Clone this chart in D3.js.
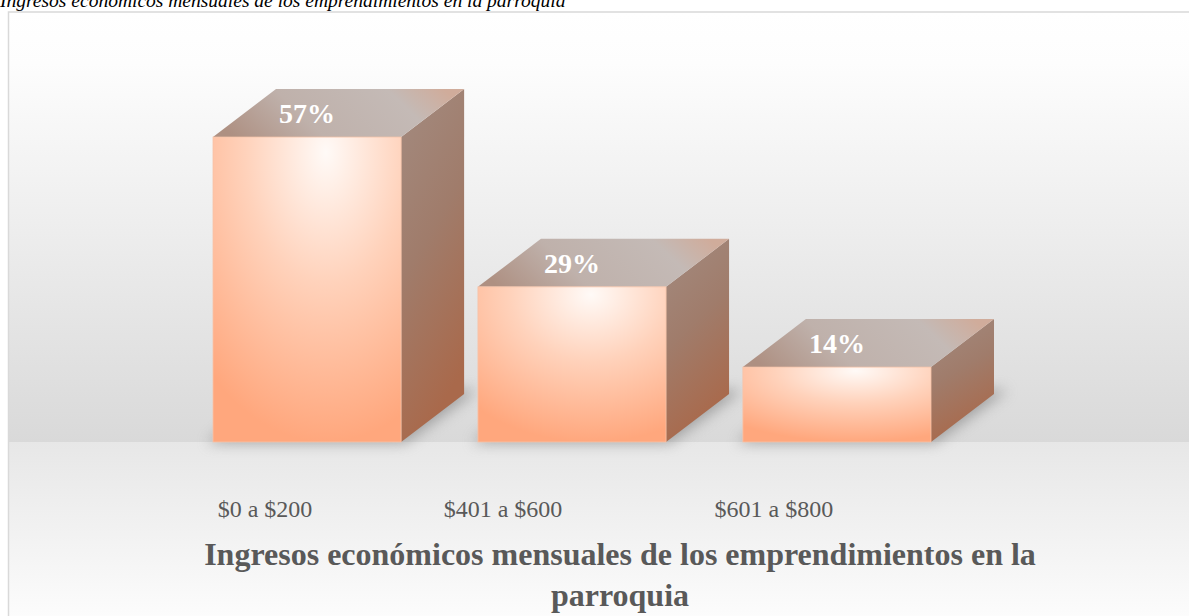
<!DOCTYPE html>
<html>
<head>
<meta charset="utf-8">
<script src="https://cdn.jsdelivr.net/npm/d3@7"></script>
<style>
  html, body { margin: 0; padding: 0; background: #ffffff; }
  svg { display: block; }
</style>
</head>
<body>
<svg id="chart" width="1189" height="616"></svg>
<script>
const categories = ["$0 a $200", "$401 a $600", "$601 a $800"];
const values = [57, 29, 14];
const valueLabels = ["57%", "29%", "14%"];
const chartTitleLines = ["Ingresos económicos mensuales de los emprendimientos en la", "parroquia"];
const captionText = "Ingresos económicos mensuales de los emprendimientos en la parroquia";

(function () {
const W = 1189, H = 616;
const svg = d3.select("#chart");
const defs = svg.append("defs");

// Layout
const floorY = 442;
const depthX = 63, depthY = 48;
const x = d3.scaleBand().domain(categories).range([213, 931]).paddingInner(0.29).paddingOuter(0);
const y = d3.scaleLinear().domain([0, 60]).range([floorY, floorY - 321]);
const bw = x.bandwidth();

// Gradients
const wall = defs.append("linearGradient").attr("id", "wall").attr("x1", 0).attr("y1", 0).attr("x2", 0).attr("y2", 1);
wall.append("stop").attr("offset", "0%").attr("stop-color", "#ffffff");
wall.append("stop").attr("offset", "12%").attr("stop-color", "#fdfdfd");
wall.append("stop").attr("offset", "100%").attr("stop-color", "#d9d9d9");

const floorG = defs.append("linearGradient").attr("id", "floorG").attr("x1", 0).attr("y1", 0).attr("x2", 0).attr("y2", 1);
floorG.append("stop").attr("offset", "0%").attr("stop-color", "#e7e7e7");
floorG.append("stop").attr("offset", "100%").attr("stop-color", "#fdfdfd");

const frontGrad = defs.append("radialGradient").attr("id", "frontG")
  .attr("cx", "60%").attr("cy", "5%").attr("r", "95%").attr("fx", "60%").attr("fy", "5%");
frontGrad.append("stop").attr("offset", "0%").attr("stop-color", "#fffaf7");
frontGrad.append("stop").attr("offset", "45%").attr("stop-color", "#ffd2bb");
frontGrad.append("stop").attr("offset", "100%").attr("stop-color", "#ffa77d");

const sideGrad = defs.append("linearGradient").attr("id", "sideG").attr("x1", 0).attr("y1", 0).attr("x2", 0.3).attr("y2", 1);
sideGrad.append("stop").attr("offset", "0%").attr("stop-color", "#a38b80");
sideGrad.append("stop").attr("offset", "50%").attr("stop-color", "#a07c6b");
sideGrad.append("stop").attr("offset", "100%").attr("stop-color", "#a9694b");

const topGrad = defs.append("linearGradient").attr("id", "topG").attr("x1", 0).attr("y1", 0.6).attr("x2", 1).attr("y2", 0.4);
topGrad.append("stop").attr("offset", "0%").attr("stop-color", "#ae9082");
topGrad.append("stop").attr("offset", "35%").attr("stop-color", "#bfb1ab");
topGrad.append("stop").attr("offset", "78%").attr("stop-color", "#c4bab6");
topGrad.append("stop").attr("offset", "100%").attr("stop-color", "#d0ac9b");

const blur = defs.append("filter").attr("id", "blur").attr("x", "-30%").attr("y", "-30%").attr("width", "160%").attr("height", "160%");
blur.append("feGaussianBlur").attr("stdDeviation", 7);

// Frame & backgrounds
const frameX = 8.5, frameY = 12;
svg.append("rect").attr("x", frameX).attr("y", frameY).attr("width", W + 60).attr("height", floorY - frameY)
  .attr("fill", "url(#wall)");
svg.append("rect").attr("x", frameX).attr("y", floorY).attr("width", W + 60).attr("height", H - floorY + 10)
  .attr("fill", "url(#floorG)");
svg.append("rect").attr("x", frameX).attr("y", frameY).attr("width", W + 60).attr("height", H + 40)
  .attr("fill", "none").attr("stroke", "#d9d9d9").attr("stroke-width", 1.5);

// Caption above frame
svg.append("text")
  .attr("x", 0).attr("y", 7)
  .attr("font-family", "'Liberation Serif', 'Times New Roman', serif")
  .attr("font-style", "italic")
  .attr("font-size", 19.5)
  .attr("fill", "#000")
  .text(captionText);

// Floor shadows
svg.append("g").selectAll("path").data(categories).join("path")
  .attr("d", c => {
    const x0 = x(c) - 6, x1 = x(c) + bw + 4;
    return `M${x0},${floorY + 1}L${x1},${floorY + 1}L${x1 + depthX + 10},${floorY - depthY - 4}L${x0 + depthX},${floorY - depthY - 4}Z`;
  })
  .attr("fill", "#7a7a7a")
  .attr("opacity", 0.6)
  .attr("filter", "url(#blur)");

// Bars
const bars = svg.append("g").selectAll("g").data(categories).join("g");

bars.append("path") // side face
  .attr("d", (c, i) => {
    const x1 = x(c) + bw, yt = y(values[i]);
    return `M${x1},${yt}L${x1 + depthX},${yt - depthY}L${x1 + depthX},${floorY - depthY}L${x1},${floorY}Z`;
  })
  .attr("fill", "url(#sideG)");

bars.append("path") // top face
  .attr("d", (c, i) => {
    const x0 = x(c), x1 = x(c) + bw, yt = y(values[i]);
    return `M${x0},${yt}L${x0 + depthX},${yt - depthY}L${x1 + depthX},${yt - depthY}L${x1},${yt}Z`;
  })
  .attr("fill", "url(#topG)");

bars.append("rect") // front face
  .attr("x", c => x(c))
  .attr("y", (c, i) => y(values[i]))
  .attr("width", bw)
  .attr("height", (c, i) => floorY - y(values[i]))
  .attr("fill", "url(#frontG)")
  .attr("stroke", "#f7c3a8")
  .attr("stroke-width", 0.8);

// Value labels (on top face)
bars.append("text")
  .attr("x", c => x(c) + bw / 2)
  .attr("y", (c, i) => y(values[i]) - depthY / 2 + 10)
  .attr("text-anchor", "middle")
  .attr("font-family", "'Liberation Serif', 'Times New Roman', serif")
  .attr("font-weight", "bold")
  .attr("font-size", 28)
  .attr("fill", "#ffffff")
  .text((c, i) => valueLabels[i]);

// Category labels
const labelShift = [-42, -69, -63];
svg.append("g").selectAll("text").data(categories).join("text")
  .attr("x", (c, i) => x(c) + bw / 2 + labelShift[i])
  .attr("y", 517)
  .attr("text-anchor", "middle")
  .attr("font-family", "'Liberation Serif', 'Times New Roman', serif")
  .attr("font-size", 24)
  .attr("fill", "#595959")
  .text(c => c);

// Chart title
svg.append("g").selectAll("text").data(chartTitleLines).join("text")
  .attr("x", 620)
  .attr("y", (d, i) => 565 + i * 41)
  .attr("text-anchor", "middle")
  .attr("font-family", "'Liberation Serif', 'Times New Roman', serif")
  .attr("font-weight", "bold")
  .attr("font-size", 32)
  .attr("fill", "#595959")
  .text(d => d);
})();
</script>
</body>
</html>
